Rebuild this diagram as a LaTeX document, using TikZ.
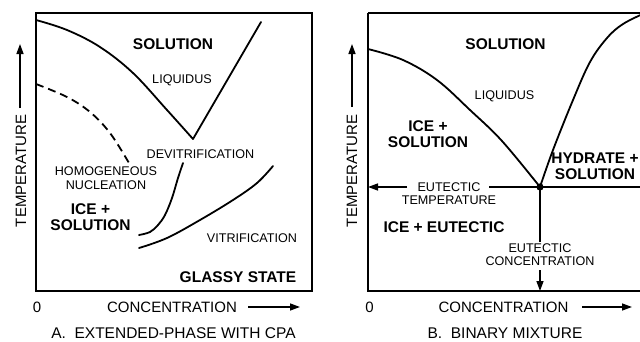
\documentclass[tikz,border=0pt]{standalone}
\usepackage{fontspec}
\setmainfont{Liberation Sans}
\usetikzlibrary{arrows.meta}
\begin{document}
\begin{tikzpicture}[x=1pt,y=-1pt,
  curve/.style={line width=1.8pt, line cap=round, line join=round},
  frame/.style={line width=1.8pt},
  big/.style={font=\fontsize{15.5}{15.5}\selectfont\bfseries, align=center, inner sep=0pt},
  small/.style={font=\fontsize{12.6}{13}\selectfont, align=center, inner sep=0pt},
  axis/.style={font=\fontsize{15}{16}\selectfont, inner sep=0pt},
  captiontext/.style={font=\fontsize{15.5}{16}\selectfont, inner sep=0pt},
  arr/.style={line width=1.4pt, -{Triangle[length=10pt,width=7pt]}}
]
\useasboundingbox (0,0) rectangle (640,341);
\clip (0,0) rectangle (640,341);
\fill[white] (0,0) rectangle (640,341);

% ---------------- Panel A ----------------
\draw[frame] (36,13) rectangle (312,291);
% liquidus
\draw[curve] plot[smooth, tension=0.6] coordinates {(36,20) (67,30) (100,47) (133,73) (167,110) (193,139)} -- (261,22);
% homogeneous nucleation (dashed)
\draw[curve, line cap=butt, dash pattern=on 8pt off 5pt] plot[smooth, tension=0.6] coordinates {(36,84) (67,97) (90,112) (110,133) (129,163)};
% devitrification
\draw[curve] plot[smooth, tension=0.6] coordinates {(139,235) (150,232) (158,225) (165,215) (172,198) (178,178) (183,163)};
% vitrification
\draw[curve] plot[smooth, tension=0.6] coordinates {(139,248) (167,238) (200,220) (233,200) (257,183) (273,166)};

\node[big] (aSol) at (173,44.5) {SOLUTION};
\node[small] (aLiq) at (182,80.5) {LIQUIDUS};
\node[small] (aDev) at (200.5,154) {DEVITRIFICATION};
\node[small, font=\fontsize{12.6}{14}\selectfont] (aHom) at (106,178.5) {HOMOGENEOUS\\NUCLEATION};
\node[big] (aIce) at (90.5,217) {ICE +\\SOLUTION};
\node[small] (aVit) at (252,238) {VITRIFICATION};
\node[big] (aGla) at (238,277.5) {GLASSY STATE};
\node[axis] (aZero) at (37,307) {0};
\node[axis] (aCon) at (172,307) {CONCENTRATION};
\coordinate (aCs) at (248,307);
\coordinate (aCe) at (300,307);
\draw[arr] (aCs) -- (aCe);
\node[axis, rotate=90] (aTem) at (21,171) {TEMPERATURE};
\coordinate (aTs) at (20,108);
\coordinate (aTe) at (20,44);
\draw[arr] (aTs) -- (aTe);
\node[captiontext] (aCap) at (173.5,333) {A.\ \ EXTENDED-PHASE WITH CPA};

% ---------------- Panel B ----------------
\draw[frame] (368,13) -- (660,13);
\draw[frame] (368,13) -- (368,291) -- (660,291);
\coordinate (E) at (540,187);
% liquidus
\draw[curve] plot[smooth, tension=0.6] coordinates {(368,49) (403,60) (437,80) (470,110) (502,141) (540,187)};
% hydrate curve
\draw[curve] plot[smooth, tension=0.6] coordinates {(540,187) (553,150) (573,100) (590,62) (607,38) (623,24) (645,13)};
% eutectic lines
\coordinate (etR) at (489,187);
\coordinate (etL) at (407,187);
\coordinate (eAx) at (368,187);
\draw[line width=1.5pt] (etR) -- (660,187);
\draw[arr] (etL) -- (eAx);
\coordinate (ecT) at (540,242);
\coordinate (ecS) at (540,270);
\coordinate (ecA) at (540,291);
\draw[line width=1.5pt] (E) -- (ecT);
\draw[arr] (ecS) -- (ecA);
\fill (E) circle (3.6pt);

\node[big] (bSol) at (505.5,44.5) {SOLUTION};
\node[small] (bLiq) at (504.5,96.5) {LIQUIDUS};
\node[big] (bIce) at (428,134) {ICE +\\SOLUTION};
\node[big] (bHyd) at (595,166) {HYDRATE +\\SOLUTION};
\node[small] (bEt) at (449,194) {EUTECTIC\\TEMPERATURE};
\node[big] (bIE) at (444,227) {ICE + EUTECTIC};
\node[small] (bEc) at (540,254.5) {EUTECTIC\\CONCENTRATION};
\node[axis] (bZero) at (369.5,307) {0};
\node[axis] (bCon) at (503.5,307) {CONCENTRATION};
\coordinate (bCs) at (582,307);
\coordinate (bCe) at (632,307);
\draw[arr] (bCs) -- (bCe);
\node[axis, rotate=90] (bTem) at (352,171) {TEMPERATURE};
\coordinate (bTs) at (352,107);
\coordinate (bTe) at (352,44);
\draw[arr] (bTs) -- (bTe);
\node[captiontext] (bCap) at (505,333) {B.\ \ BINARY MIXTURE};
\end{tikzpicture}
\end{document}
